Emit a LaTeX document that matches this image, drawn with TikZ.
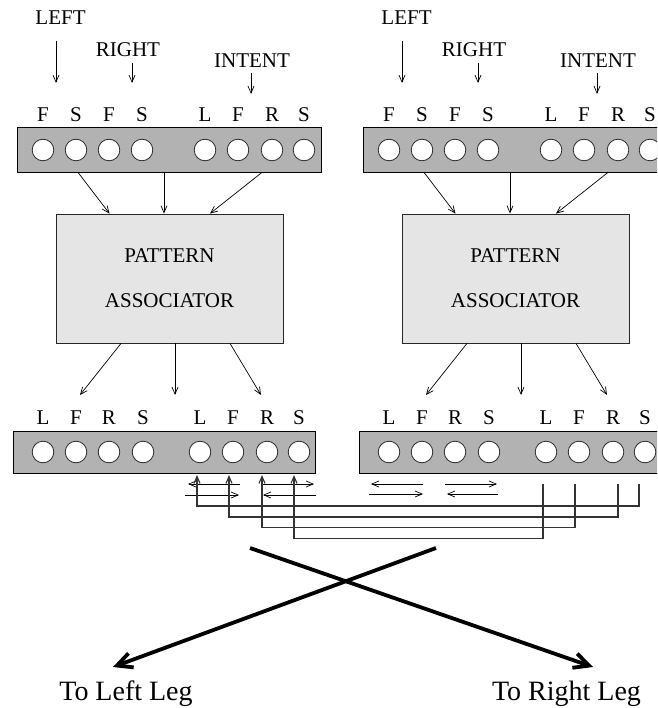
\documentclass[tikz,border=0pt]{standalone}
\usepackage{fontspec}
\setmainfont{Liberation Serif}
\usetikzlibrary{arrows.meta}
\begin{document}
\begin{tikzpicture}[x=1pt,y=-1pt,
  lbl/.style={font=\fontsize{21}{25}\selectfont, anchor=base, inner sep=0pt},
  bar/.style={draw=black, fill=black!30, line width=0.8pt, inner sep=0pt},
  unit/.style={circle, draw=black!85, fill=white, minimum size=21.6pt, inner sep=0pt, line width=0.8pt},
  assoc/.style={draw=black!85, fill=black!10, line width=0.8pt, minimum width=227pt, minimum height=129pt,
                align=center, font=\fontsize{21}{45}\selectfont},
  arr/.style={-{Straight Barb[length=7pt,width=6pt]}, line width=0.7pt},
  wire/.style={line width=1.1pt, draw=black!80, -{Straight Barb[length=7pt,width=6pt]}},
  legarrow/.style={-{Straight Barb[length=15pt,width=15pt]}, line width=3.8pt},
  legtext/.style={font=\fontsize{28}{32}\selectfont, anchor=base, inner sep=0pt}]
\useasboundingbox (0,0) rectangle (657,708);
\clip (0,0) rectangle (657,708);

% two identical sensor / associator / motor units
\foreach \p/\dx in {A/0,B/346} {
  \begin{scope}[xshift=\dx]
    % input labels and their arrows
    \node[lbl] (\p-left)   at (60.5,25) {LEFT};
    \node[lbl] (\p-right)  at (128,57)  {RIGHT};
    \node[lbl] (\p-intent) at (252,68)  {INTENT};
    \coordinate (\p-ls) at (56,41);  \coordinate (\p-le) at (56,83);
    \coordinate (\p-rs) at (132,63); \coordinate (\p-re) at (132,83);
    \coordinate (\p-is) at (251,73); \coordinate (\p-ie) at (251,94);
    \draw[arr] (\p-ls) -- (\p-le);
    \draw[arr] (\p-rs) -- (\p-re);
    \draw[arr] (\p-is) -- (\p-ie);

    % input layer
    \node[bar, minimum width=304pt, minimum height=45pt] (\p-top) at (169,149.5) {};
    \foreach \i/\x/\t in {1/43/F,2/76/S,3/109/F,4/142/S,5/205/L,6/238/F,7/272/R,8/304/S} {
      \node[unit] (\p-t\i) at (\x,150) {};
      \node[lbl] (\p-tl\i) at (\x,122) {\t};
    }

    % pattern associator
    \node[assoc] (\p-pa) at (169.5,278.5) {PATTERN\\ASSOCIATOR};
    \draw[arr] ([xshift=-91pt]\p-top.south) -- ([xshift=-60pt]\p-pa.north);
    \draw[arr] ([xshift=-5pt]\p-top.south)  -- ([xshift=-5.5pt]\p-pa.north);
    \draw[arr] ([xshift=93pt]\p-top.south)  -- ([xshift=40.5pt]\p-pa.north);

    % output layer
    \coordinate (\p-o1) at (80,395);
    \coordinate (\p-o2) at (175,395);
    \coordinate (\p-o3) at (261,395);
    \draw[arr] ([xshift=-48.5pt]\p-pa.south) -- (\p-o1);
    \draw[arr] ([xshift=5.5pt]\p-pa.south)   -- (\p-o2);
    \draw[arr] ([xshift=60.5pt]\p-pa.south)  -- (\p-o3);
    \node[bar, minimum width=302pt, minimum height=42pt] (\p-bot) at (164,452) {};
    \foreach \i/\x/\t in {1/43/L,2/76/F,3/109/R,4/143/S,5/200/L,6/233/F,7/267/R,8/299/S} {
      \node[unit] (\p-b\i) at (\x,452) {};
      \node[lbl] (\p-bl\i) at (\x,424) {\t};
    }
  \end{scope}
}

% lateral connections between neighbouring output units
\foreach \a/\b in {{240,484}/{188,484},{185,495}/{239,495},{263,484}/{314,484},{316,495}/{263,495},
                   {423,484}/{371,484},{369,494}/{423,494},{445,484}/{497,484},{498,494}/{447,494}} {
  \draw[arr] (\a) -- (\b);
}

% crossed feedback wires from the second unit to the first
\coordinate (A-w5) at (197,475);
\coordinate (A-w6) at (229,475);
\coordinate (A-w7) at (262,475);
\coordinate (A-w8) at (294,475);
\coordinate (B-w5) at (543,484);
\coordinate (B-w6) at (575,484);
\coordinate (B-w7) at (618,484);
\coordinate (B-w8) at (639,484);
\draw[wire] (B-w8) -- ++(0,22)   -| (A-w5);
\draw[wire] (B-w7) -- ++(0,33)   -| (A-w6);
\draw[wire] (B-w6) -- ++(0,43.5) -| (A-w7);
\draw[wire] (B-w5) -- ++(0,54.5) -| (A-w8);

% crossed leg outputs
\node[legtext] (lleg) at (126,700)   {To Left Leg};
\node[legtext] (rleg) at (566.5,700) {To Right Leg};
\coordinate (xa) at (250,548);
\coordinate (xb) at (436,548);
\coordinate (tl) at (113,667);
\coordinate (tr) at (593,667);
\draw[legarrow] (xa) -- (tr);
\draw[legarrow] (xb) -- (tl);
\end{tikzpicture}
\end{document}
